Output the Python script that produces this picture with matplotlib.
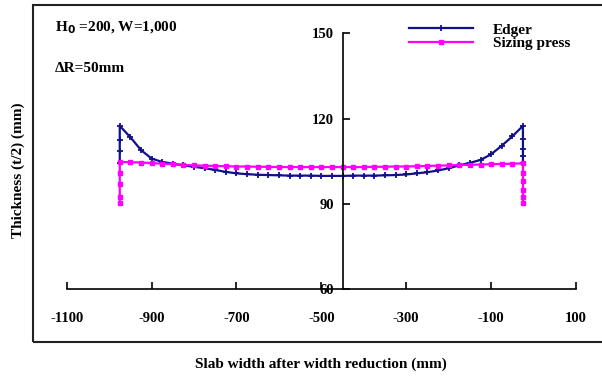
import matplotlib
matplotlib.use("Agg")
import matplotlib.pyplot as plt
from matplotlib.patches import Rectangle

# Edger: slab width position (mm) vs thickness t/2 (mm)
edger_x = [-975, -975, -975, -975,
           -950, -925, -900, -875, -850, -825, -800, -775, -750, -725, -700,
           -675, -650, -625, -600, -575, -550, -525, -500, -475, -450, -425,
           -400, -375, -350, -325, -300, -275, -250, -225, -200, -175, -150,
           -125, -100, -75, -50, -25,
           -25, -25, -25, -25]
edger_y = [104.5, 108.5, 112.5, 117.5,
           113.5, 109.0, 106.0, 104.8, 104.2, 103.6, 103.1, 102.6, 102.0, 101.3, 100.8,
           100.5, 100.3, 100.2, 100.1, 100.0, 100.0, 100.0, 99.9, 99.9, 99.9, 100.0,
           100.0, 100.0, 100.1, 100.2, 100.4, 100.8, 101.2, 101.8, 102.6, 103.6, 104.5,
           105.5, 107.5, 110.5, 113.8, 117.5,
           113.0, 109.5, 107.0, 104.5]

# Sizing press
press_x = [-975, -975, -975, -975, -975,
           -950, -925, -900, -875, -850, -825, -800, -775, -750, -725, -700,
           -675, -650, -625, -600, -575, -550, -525, -500, -475, -450, -425,
           -400, -375, -350, -325, -300, -275, -250, -225, -200, -175, -150,
           -125, -100, -75, -50, -25,
           -25, -25, -25, -25, -25]
press_y = [90.5, 92.5, 97.0, 101.0, 104.8,
           104.7, 104.6, 104.4, 104.2, 104.0, 103.8, 103.6, 103.5, 103.4, 103.3, 103.2,
           103.2, 103.1, 103.1, 103.0, 103.0, 103.0, 103.0, 103.0, 103.0, 103.0, 103.0,
           103.0, 103.1, 103.1, 103.2, 103.2, 103.3, 103.4, 103.5, 103.6, 103.7, 103.8,
           103.9, 104.0, 104.1, 104.2, 104.3,
           101.0, 98.0, 95.0, 92.5, 90.5]

x_ticks = [-1100, -900, -700, -500, -300, -100, 100]
y_ticks = [60, 90, 120, 150]

plt.rcParams['font.family'] = ['Liberation Serif', 'DejaVu Serif']
plt.rcParams['font.weight'] = 'bold'
plt.rcParams['axes.unicode_minus'] = False

fig = plt.figure(figsize=(6.02, 3.83), dpi=100)
fig.patches.append(Rectangle((33 / 602, 1 - 342 / 383), 1.0, 337 / 383,
                             transform=fig.transFigure, fill=False,
                             edgecolor='#222222', linewidth=1.5))

ax = fig.add_axes([0.1108, 0.2446, 0.846, 0.668])
ax.plot(edger_x, edger_y, color='#10108a', marker='+', markersize=5,
        markeredgewidth=1.3, linewidth=1.6, label='Edger')
ax.plot(press_x, press_y, color='#ff00ff', marker='s', markersize=3,
        linewidth=1.6, label='Sizing press')

ax.set_xlim(-1100, 100)
ax.set_ylim(60, 150)
ax.set_xticks(x_ticks)
ax.set_yticks(y_ticks)
ax.spines['top'].set_visible(False)
ax.spines['right'].set_visible(False)
ax.spines['left'].set_position(('data', -450))
for s in ['left', 'bottom']:
    ax.spines[s].set_linewidth(1.2)
ax.tick_params(axis='x', direction='in', length=5, width=1.2, pad=16, labelsize=10.5)
ax.tick_params(axis='y', direction='in', length=5, width=1.2, pad=6, labelsize=10.5)

ax.set_xlabel('Slab width after width reduction (mm)', fontsize=11, fontweight='bold', labelpad=24)
fig.text(18 / 602, 0.555, 'Thickness (t/2) (mm)', rotation=90, fontsize=11,
         fontweight='bold', ha='center', va='center')

fig.text(55 / 602, 1 - 28 / 383, r'H$_0$ =200, W=1,000', fontsize=11,
         fontweight='bold', va='center')
fig.text(55 / 602, 1 - 68 / 383, r'ΔR=50mm', fontsize=11,
         fontweight='bold', va='center')

ax.legend(loc='upper left', bbox_to_anchor=(0.645, 1.095), frameon=False,
          fontsize=11, handlelength=4.2, labelspacing=0.0, handletextpad=1.3)

fig.savefig('out.png', dpi=100)
